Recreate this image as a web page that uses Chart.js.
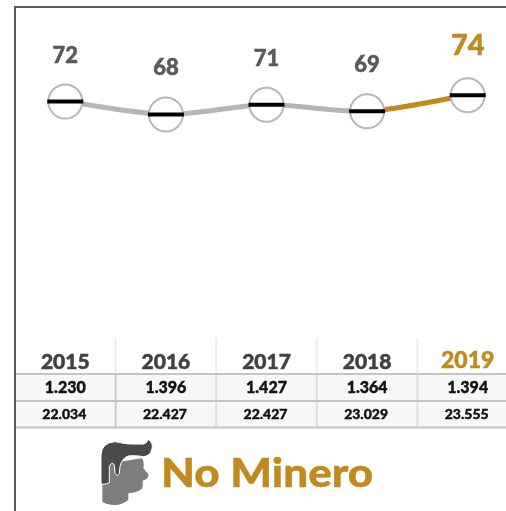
<!DOCTYPE html>
<html>
<head>
<meta charset="utf-8">
<script src="https://cdn.jsdelivr.net/npm/chart.js@4"></script>
<style>
  html, body { margin: 0; padding: 0; background: #fff; overflow: hidden; }
  #wrap { position: relative; width: 506px; height: 511px; overflow: hidden; }
  #myChart { position: absolute; left: 0; top: 0; }
  #logo { position: absolute; left: 0; top: 330px; width: 253px; height: 181px; }
  #brand { position: absolute; left: 161px; top: 448px; font: 900 40px Lato, sans-serif; color: #c08a1e; line-height: 48px; white-space: nowrap; transform: scaleX(1.1); transform-origin: left center; -webkit-text-stroke: 0.4px #c08a1e; }
</style>
</head>
<body>
<div id="wrap">
  <canvas id="myChart" width="520" height="511"></canvas>
  <svg id="logo" viewBox="0 0 759 543">
    <path fill="#7d7d7d" d="M330 400 L425 385 Q434 395 430 415 L445 432 Q449 446 428 452 Q430 470 424 478 Q410 488 385 490 L385 510 Q365 526 340 525 Q315 522 307 515 L307 460 Z"/>
    <path fill="#4a4a4a" stroke="#fff" stroke-width="3" d="M303 375 Q305 338 345 335 Q385 345 420 342 Q440 345 445 328 Q462 340 455 360 Q450 378 430 380 Q400 375 385 378 Q365 385 360 410 L358 430 Q352 442 345 430 L343 405 Q335 392 328 410 L328 458 Q310 467 303 460 Z"/>
  </svg>
  <div id="brand">No Minero</div>
</div>
<script>
// Chart values
const years = ['2015', '2016', '2017', '2018', '2019'];
const scores = [72, 68, 71, 69, 74];
const rowOne = ['1.230', '1.396', '1.427', '1.364', '1.394'];
const rowTwo = ['22.034', '22.427', '22.427', '23.029', '23.555'];

const GOLD = '#c08a1e';
const GREY_LINE = '#b5b5b5';
const LAST = years.length - 1;

// Value labels above the points
const valueLabels = {
    id: 'valueLabels',
    afterDatasetsDraw(chart) {
        const ctx = chart.ctx;
        const x = chart.scales.x, y = chart.scales.y;
        ctx.save();
        ctx.textAlign = 'center';
        ctx.textBaseline = 'middle';
        ctx.lineWidth = 0.5;
        scores.forEach((v, i) => {
            const last = i === LAST;
            const px = x.getPixelForValue(i);
            const py = y.getPixelForValue(v) - (last ? 50 : 46);
            ctx.font = '900 ' + (last ? 29 : 22) + 'px Lato, sans-serif';
            ctx.fillStyle = last ? GOLD : '#595959';
            ctx.strokeStyle = ctx.fillStyle;
            ctx.fillText(v, px, py);
            ctx.strokeText(v, px, py);
        });
        ctx.restore();
    }
};

// Small table under the axis and the frame on the left and top
const tableAndFrame = {
    id: 'tableAndFrame',
    beforeDraw(chart) {
        const ctx = chart.ctx;
        const x = chart.scales.x;
        const half = (x.getPixelForValue(1) - x.getPixelForValue(0)) / 2;
        const rowY = [374, 401, 427.5];

        ctx.save();
        ctx.fillStyle = '#f7f7f7';
        ctx.fillRect(15, rowY[0], 505, rowY[2] - rowY[0]);

        years.forEach((yr, i) => {
            const right = x.getPixelForValue(i) + half;
            ctx.strokeStyle = '#ececec';
            ctx.lineWidth = 2;
            ctx.beginPath(); ctx.moveTo(right, 338); ctx.lineTo(right, rowY[0]); ctx.stroke();
            ctx.strokeStyle = i === 0 ? '#c8c8c8' : '#dedede';
            ctx.beginPath(); ctx.moveTo(right, rowY[0]); ctx.lineTo(right, rowY[2]); ctx.stroke();
        });

        ctx.strokeStyle = '#c4c4c4';
        ctx.lineWidth = 2;
        rowY.forEach(py => {
            ctx.beginPath(); ctx.moveTo(15, py); ctx.lineTo(520, py); ctx.stroke();
        });

        ctx.fillStyle = '#111';
        ctx.strokeStyle = '#111';
        ctx.lineWidth = 0.4;
        ctx.textAlign = 'center';
        ctx.textBaseline = 'middle';
        ctx.font = '900 16px Lato, sans-serif';
        rowOne.forEach((t, i) => {
            ctx.fillText(t, x.getPixelForValue(i), 388);
            ctx.strokeText(t, x.getPixelForValue(i), 388);
        });
        ctx.font = '900 14px Lato, sans-serif';
        rowTwo.forEach((t, i) => {
            ctx.fillText(t, x.getPixelForValue(i) - 1, 414);
            ctx.strokeText(t, x.getPixelForValue(i) - 1, 414);
        });

        ctx.strokeStyle = '#595959';
        ctx.lineWidth = 2;
        ctx.beginPath();
        ctx.moveTo(15, 511); ctx.lineTo(15, 7); ctx.lineTo(520, 7);
        ctx.stroke();
        ctx.restore();
    }
};

var ctx = document.getElementById('myChart').getContext('2d');
var myChart = new Chart(ctx, {
    type: 'line',
    data: {
        labels: years,
        datasets: [
            {
                // black bar across each circle
                data: scores,
                showLine: false,
                pointStyle: 'line',
                pointRadius: 18,
                pointHoverRadius: 18,
                pointBorderColor: '#000',
                pointBorderWidth: 4
            },
            {
                data: scores,
                borderWidth: 5,
                tension: 0.3,
                borderColor: GREY_LINE,
                segment: {
                    borderColor: c => c.p1DataIndex === LAST ? GOLD : GREY_LINE
                },
                pointRadius: 17,
                pointHoverRadius: 17,
                pointBackgroundColor: '#fff',
                pointBorderColor: '#b8b8b8',
                pointBorderWidth: 2
            }
        ]
    },
    plugins: [tableAndFrame, valueLabels],
    options: {
        responsive: false,
        animation: false,
        layout: { autoPadding: false, padding: { left: 15, right: 2, top: 12, bottom: 0 } },
        plugins: { legend: { display: false }, tooltip: { enabled: false } },
        scales: {
            y: { display: false, min: 0, max: 100 },
            x: {
                offset: true,
                border: { display: false },
                grid: { display: false, drawTicks: false, offset: true },
                afterFit: scale => { scale.height = 179; },
                ticks: {
                    padding: 18,
                    maxRotation: 0,
                    color: c => c.index === LAST ? GOLD : '#404040',
                    textStrokeColor: c => c.index === LAST ? GOLD : '#404040',
                    textStrokeWidth: 0.5,
                    font: c => ({
                        family: 'Lato, sans-serif',
                        weight: '900',
                        size: c.index === LAST ? 23 : 21,
                        lineHeight: c.index === LAST ? 0.9 : 1.2
                    })
                }
            }
        }
    }
});
</script>
</body>
</html>
